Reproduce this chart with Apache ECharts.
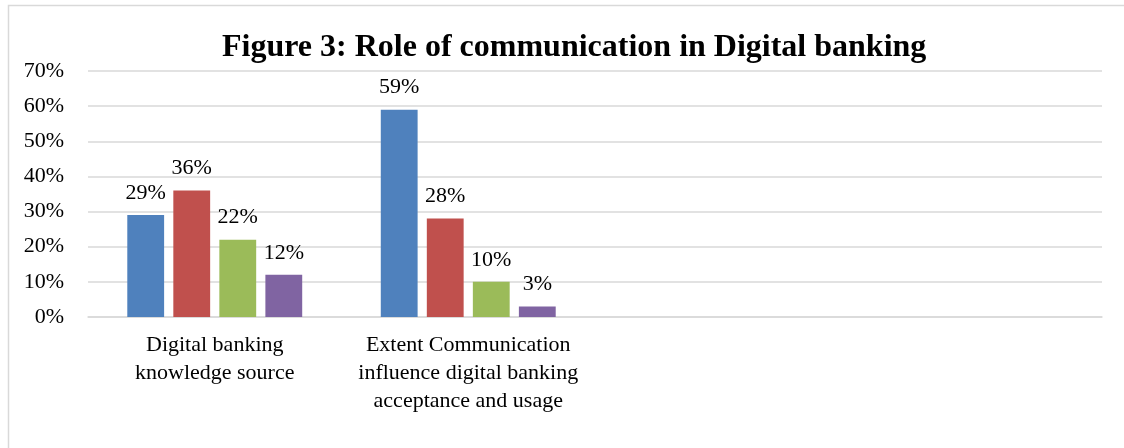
<!DOCTYPE html>
<html>
<head>
<meta charset="utf-8">
<script src="https://cdn.jsdelivr.net/npm/echarts@6/dist/echarts.min.js"></script>
<style>
  html, body { margin: 0; padding: 0; background: #fff; }
  #chart { width: 1124px; height: 448px; }
</style>
</head>
<body>
<div id="chart"></div>
<script>
const titleText = 'Figure 3: Role of communication in Digital banking';
const categories = [
  'Digital banking\nknowledge source',
  'Extent Communication\ninfluence digital banking\nacceptance and usage',
  '',
  ''
];
const seriesNames = ['Series1', 'Series2', 'Series3', 'Series4'];
const series1 = [29, 59, null, null];
const series2 = [36, 28, null, null];
const series3 = [22, 10, null, null];
const series4 = [12, 3, null, null];
const colors = ['#4F81BD', '#C0504D', '#9BBB59', '#8064A2'];

const font = '"Liberation Serif", "Times New Roman", serif';
const chart = echarts.init(document.getElementById('chart'));
const allData = [series1, series2, series3, series4];

chart.setOption({
  animation: false,
  backgroundColor: '#ffffff',
  title: {
    text: titleText,
    left: 217,
    top: 27,
    textStyle: { fontFamily: font, fontWeight: 'bold', fontSize: 32, color: '#000' }
  },
  graphic: [{
    type: 'rect',
    shape: { x: 8.5, y: 5.5, width: 1300, height: 600 },
    style: { fill: 'none', stroke: '#d9d9d9', lineWidth: 1.5 },
    silent: true
  }],
  grid: { left: 88, right: 22, top: 71, bottom: 131 },
  xAxis: {
    type: 'category',
    data: categories,
    axisLine: { show: true, lineStyle: { color: '#d9d9d9', width: 1.5 } },
    axisTick: { show: false },
    axisLabel: {
      interval: 0,
      fontFamily: font,
      fontSize: 22,
      color: '#000',
      lineHeight: 28,
      margin: 14
    }
  },
  yAxis: {
    type: 'value',
    min: 0,
    max: 70,
    interval: 10,
    axisLine: { show: false },
    axisTick: { show: false },
    splitLine: { lineStyle: { color: '#d9d9d9', width: 1.5 } },
    axisLabel: {
      formatter: v => v + '%',
      fontFamily: font,
      fontSize: 22,
      color: '#000',
      margin: 24
    }
  },
  series: allData.map((d, i) => ({
    name: seriesNames[i],
    type: 'bar',
    data: d,
    barGap: '25%',
    barCategoryGap: '31%',
    itemStyle: { color: colors[i] },
    label: {
      show: true,
      position: 'top',
      distance: 11,
      formatter: p => p.value + '%',
      fontFamily: font,
      fontSize: 22,
      color: '#000'
    }
  }))
});
</script>
</body>
</html>
